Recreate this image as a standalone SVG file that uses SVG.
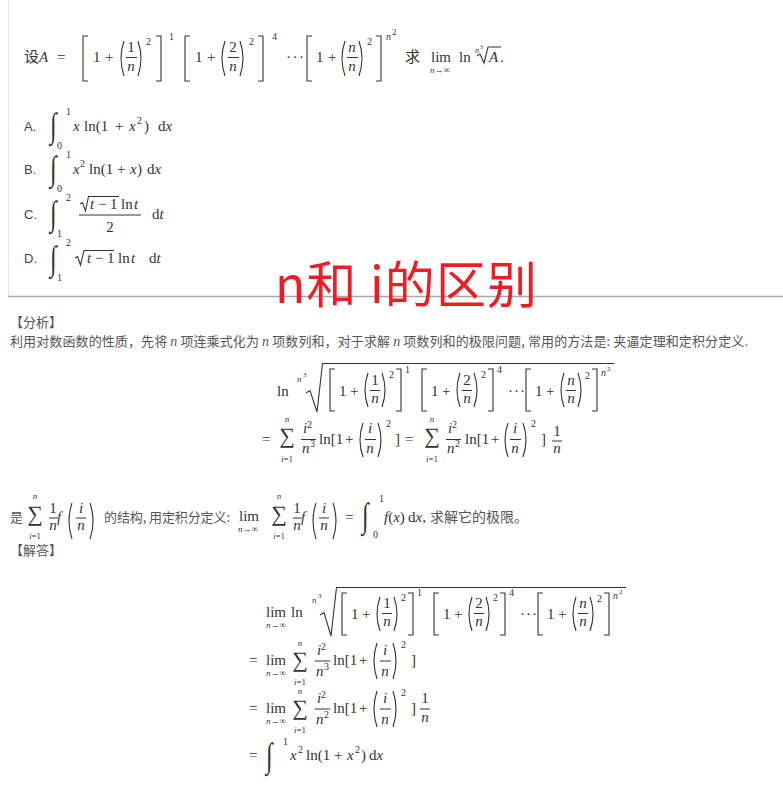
<svg xmlns="http://www.w3.org/2000/svg" width="783" height="791" viewBox="0 0 783 791">
<style>
.m{font-family:"Liberation Serif","DejaVu Serif",serif;font-size:15px;fill:#333}
.it{font-style:italic}
.sm{font-size:10px}
.xs{font-size:9px}
.c{text-anchor:middle}
.cn{font-family:"Noto Sans CJK SC",sans-serif;font-size:13px;fill:#555}
.ab{font-family:"Liberation Sans","Noto Sans CJK SC",sans-serif;font-size:13px;fill:#444}
.fl{stroke:#333;stroke-width:1}
.rad{fill:none;stroke:#333;stroke-width:1.1}
.dl{fill:none;stroke:#333;stroke-width:1.1}
.big{font-family:"Liberation Serif","DejaVu Serif",serif;fill:#333}
.sig{font-family:"Liberation Serif","DejaVu Serif",serif;fill:#333;font-size:22px;text-anchor:middle}
</style>
<rect width="783" height="791" fill="#fff"/>
<g id="card">
<line x1="8.5" y1="0" x2="8.5" y2="296" stroke="#e6e6e6" stroke-width="1"/>
<line x1="8" y1="296.5" x2="783" y2="296.5" stroke="#a8a8a8" stroke-width="1.5"/>
</g>
<g id="question">
<text class="cn" x="24" y="62" style="font-size:15px;fill:#333">设</text>
<text class="m it" x="39" y="62">A</text>
<text class="m" x="57" y="62">=</text>
<path class="dl" d="M88,36 H83 V81 H88 M124,41 Q118,58.5 124,76 M138,41 Q144,58.5 138,76 M156,36 H161 V81 H156"/>
<text class="m" x="93" y="62">1</text><text class="m" x="105" y="62">+</text>
<text class="m c" x="131" y="52">1</text><line class="fl" x1="126" y1="57.5" x2="137" y2="57.5"/><text class="m c it" x="131" y="71">n</text>
<text class="m sm" x="146" y="45">2</text>
<text class="m sm" x="169" y="40">1</text>
<path class="dl" d="M190,36 H185 V81 H190 M225,41 Q219,58.5 225,76 M240,41 Q246,58.5 240,76 M258,36 H263 V81 H258"/>
<text class="m" x="195" y="62">1</text><text class="m" x="207" y="62">+</text>
<text class="m c" x="233" y="52">2</text><line class="fl" x1="228" y1="57.5" x2="239" y2="57.5"/><text class="m c it" x="233" y="71">n</text>
<text class="m sm" x="249" y="45">2</text>
<text class="m sm" x="272" y="40">4</text>
<text class="m" x="286" y="62" letter-spacing="1.5">···</text>
<path class="dl" d="M312,36 H307 V81 H312 M345,41 Q339,58.5 345,76 M359,41 Q365,58.5 359,76 M376,36 H381 V81 H376"/>
<text class="m" x="316" y="62">1</text><text class="m" x="328" y="62">+</text>
<text class="m c it" x="352" y="52">n</text><line class="fl" x1="347" y1="57.5" x2="358" y2="57.5"/><text class="m c it" x="352" y="71">n</text>
<text class="m sm" x="367" y="45">2</text>
<text class="m sm it" x="386" y="40">n</text><text class="m xs" x="392" y="35">2</text>
<text class="cn" x="405" y="62" style="font-size:15px;fill:#333">求</text>
<text class="m c" x="441" y="62">lim</text>
<text class="m xs c" x="440" y="73"><tspan font-style="italic">n</tspan>→∞</text>
<text class="m" x="459" y="62">ln</text>
<text class="m it" x="475" y="53" style="font-size:8px">n</text><text class="m" x="480" y="49" style="font-size:6px">3</text>
<path class="rad" d="M477,56 L480,54 L484,63 L488,47 L501,47"/>
<text class="m it" x="489" y="62">A</text><text class="m" x="500" y="62">.</text>
</g>
<g id="options">
<text class="ab" x="24" y="131">A.</text>
<text class="big" font-size="24" transform="translate(50,137) scale(1,1.45)">∫</text>
<text class="m sm" x="66" y="115">1</text><text class="m sm" x="57" y="149">0</text>
<text class="m it" x="73" y="131">x</text><text class="m" x="84" y="131">ln(1</text><text class="m" x="115" y="131">+</text><text class="m it" x="129" y="131">x</text><text class="m sm" x="137" y="124">2</text><text class="m" x="144" y="131">)</text><text class="m" x="158" y="131">d<tspan font-style="italic">x</tspan></text>

<text class="ab" x="24" y="174">B.</text>
<text class="big" font-size="24" transform="translate(50,180) scale(1,1.45)">∫</text>
<text class="m sm" x="66" y="158">1</text><text class="m sm" x="57" y="192">0</text>
<text class="m it" x="73" y="174">x</text><text class="m sm" x="80" y="167">2</text><text class="m" x="89" y="174">ln(1</text><text class="m" x="117" y="174">+</text><text class="m it" x="130" y="174">x</text><text class="m" x="137" y="174">)</text><text class="m" x="147" y="174">d<tspan font-style="italic">x</tspan></text>

<text class="ab" x="24" y="219">C.</text>
<text class="big" font-size="24" transform="translate(50,225) scale(1,1.45)">∫</text>
<text class="m sm" x="66" y="201">2</text><text class="m sm" x="57" y="237">1</text>
<path class="rad" d="M80,204 L82.5,202.5 L85.5,211 L88.5,196.5 L119,196.5"/>
<text class="m it" x="90" y="209">t</text><text class="m" x="98" y="209">−</text><text class="m" x="110" y="209">1</text><text class="m" x="121" y="209">ln</text><text class="m it" x="134" y="209">t</text>
<line class="fl" x1="79" y1="215" x2="141" y2="215"/>
<text class="m c" x="110" y="232">2</text>
<text class="m" x="152" y="219">d<tspan font-style="italic">t</tspan></text>

<text class="ab" x="24" y="263">D.</text>
<text class="big" font-size="24" transform="translate(50,270) scale(1,1.45)">∫</text>
<text class="m sm" x="66" y="246">2</text><text class="m sm" x="57" y="281">1</text>
<path class="rad" d="M75,258 L77.5,256.5 L80.5,265 L84,250.5 L114,250.5"/>
<text class="m it" x="87" y="263">t</text><text class="m" x="95" y="263">−</text><text class="m" x="107" y="263">1</text><text class="m" x="118" y="263">ln</text><text class="m it" x="131" y="263">t</text>
<text class="m" x="149" y="263">d<tspan font-style="italic">t</tspan></text>
</g>
<g id="analysis">
<text class="cn" x="10" y="327">【分析】</text>
<text class="cn" x="10" y="346" textLength="738" lengthAdjust="spacing">利用对数函数的性质，先将 <tspan class="m it" style="font-size:14px;fill:#555">n</tspan> 项连乘式化为 <tspan class="m it" style="font-size:14px;fill:#555">n</tspan> 项数列和，对于求解 <tspan class="m it" style="font-size:14px;fill:#555">n</tspan> 项数列和的极限问题, 常用的方法是: 夹逼定理和定积分定义.</text>

<!-- eq1 line 1 -->
<text class="m" x="277" y="396">ln</text>
<text class="m it xs" x="297" y="382">n</text><text class="m" x="303" y="377" style="font-size:7px">3</text>
<path class="rad" d="M306,393 L310,390.5 L317,412 L322.5,363.5 L614,363.5"/>
<path class="dl" d="M335,369 H330 V411 H335 M368,373 Q362,390 368,407 M382,373 Q388,390 382,407 M396,369 H401 V411 H396"/>
<text class="m" x="339" y="396">1</text><text class="m" x="350" y="396">+</text>
<text class="m c" x="375" y="385">1</text><line class="fl" x1="370" y1="390.5" x2="380" y2="390.5"/><text class="m c it" x="375" y="403">n</text>
<text class="m sm" x="389" y="378">2</text>
<text class="m sm" x="405" y="373">1</text>
<path class="dl" d="M427,369 H422 V411 H427 M460,373 Q454,390 460,407 M474,373 Q480,390 474,407 M488,369 H493 V411 H488"/>
<text class="m" x="431" y="396">1</text><text class="m" x="442" y="396">+</text>
<text class="m c" x="467" y="385">2</text><line class="fl" x1="462" y1="390.5" x2="472" y2="390.5"/><text class="m c it" x="467" y="403">n</text>
<text class="m sm" x="481" y="378">2</text>
<text class="m sm" x="497" y="373">4</text>
<text class="m" x="508" y="396" letter-spacing="1">···</text>
<path class="dl" d="M531,369 H526 V411 H531 M564,373 Q558,390 564,407 M578,373 Q584,390 578,407 M592,369 H597 V411 H592"/>
<text class="m" x="535" y="396">1</text><text class="m" x="546" y="396">+</text>
<text class="m c it" x="571" y="385">n</text><line class="fl" x1="566" y1="390.5" x2="576" y2="390.5"/><text class="m c it" x="571" y="403">n</text>
<text class="m sm" x="585" y="379">2</text>
<text class="m sm it" x="601" y="376">n</text><text class="m" x="607" y="371" style="font-size:7px">2</text>

<!-- eq1 line 2 -->
<text class="m" x="262" y="444">=</text>
<text class="m it xs c" x="287" y="422">n</text>
<text class="sig" x="287" y="443">∑</text>
<text class="m xs c" x="287" y="462"><tspan font-style="italic">i</tspan>=1</text>
<text class="m it" x="303" y="433">i</text><text class="m sm" x="307" y="428">2</text>
<line class="fl" x1="301" y1="439.5" x2="316" y2="439.5"/>
<text class="m it" x="302" y="453">n</text><text class="m sm" x="310" y="447">3</text>
<text class="m" x="319" y="444">ln[1</text><text class="m" x="345" y="444">+</text>
<path class="dl" d="M363,423 Q357,440 363,457 M378,423 Q384,440 378,457"/>
<text class="m c it" x="370" y="433">i</text><line class="fl" x1="365" y1="439.5" x2="376" y2="439.5"/><text class="m c it" x="370" y="453">n</text>
<text class="m sm" x="386" y="427">2</text>
<text class="m" x="395" y="444">]</text>
<text class="m" x="405" y="444">=</text>
<text class="m it xs c" x="432" y="422">n</text>
<text class="sig" x="432" y="443">∑</text>
<text class="m xs c" x="432" y="462"><tspan font-style="italic">i</tspan>=1</text>
<text class="m it" x="448" y="433">i</text><text class="m sm" x="452" y="428">2</text>
<line class="fl" x1="446" y1="439.5" x2="461" y2="439.5"/>
<text class="m it" x="447" y="453">n</text><text class="m sm" x="455" y="447">2</text>
<text class="m" x="465" y="444">ln[1</text><text class="m" x="491" y="444">+</text>
<path class="dl" d="M508,423 Q502,440 508,457 M523,423 Q529,440 523,457"/>
<text class="m c it" x="515" y="433">i</text><line class="fl" x1="510" y1="439.5" x2="521" y2="439.5"/><text class="m c it" x="515" y="453">n</text>
<text class="m sm" x="531" y="427">2</text>
<text class="m" x="541" y="444">]</text>
<text class="m c" x="557" y="436">1</text><line class="fl" x1="552" y1="441" x2="562" y2="441"/><text class="m c it" x="557" y="453">n</text>

<!-- 是 line -->
<text class="cn" x="10" y="522">是</text>
<text class="m it xs c" x="35" y="499">n</text>
<text class="sig" x="35" y="521">∑</text>
<text class="m xs c" x="35" y="539" style="font-size:8.5px"><tspan font-style="italic">i</tspan>=1</text>
<text class="m c" x="53" y="513">1</text><line class="fl" x1="49" y1="518" x2="58" y2="518"/><text class="m c it" x="53" y="530">n</text>
<text class="m it" x="57" y="522">f</text>
<path class="dl" d="M72,503 Q66,521 72,539 M90,503 Q96,521 90,539"/>
<text class="m c it" x="81" y="513">i</text><line class="fl" x1="76" y1="518" x2="86" y2="518"/><text class="m c it" x="81" y="530">n</text>
<text class="cn" x="104" y="522" textLength="126" lengthAdjust="spacing">的结构, 用定积分定义:</text>
<text class="m c" x="249" y="521">lim</text>
<text class="m xs c" x="248" y="532"><tspan font-style="italic">n</tspan>→∞</text>
<text class="m it xs c" x="279" y="499">n</text>
<text class="sig" x="279" y="521">∑</text>
<text class="m xs c" x="279" y="539" style="font-size:8.5px"><tspan font-style="italic">i</tspan>=1</text>
<text class="m c" x="297" y="513">1</text><line class="fl" x1="293" y1="518" x2="302" y2="518"/><text class="m c it" x="297" y="530">n</text>
<text class="m it" x="301" y="522">f</text>
<path class="dl" d="M316,503 Q310,521 316,539 M333,503 Q339,521 333,539"/>
<text class="m c it" x="324" y="513">i</text><line class="fl" x1="319" y1="518" x2="329" y2="518"/><text class="m c it" x="324" y="530">n</text>
<text class="m" x="345" y="522">=</text>
<text class="big" font-size="24" transform="translate(362,527) scale(1,1.45)">∫</text>
<text class="m sm" x="379" y="502">1</text><text class="m sm" x="373" y="538">0</text>
<text class="m" x="384" y="522"><tspan font-style="italic">f</tspan>(<tspan font-style="italic">x</tspan>)</text>
<text class="m" x="408" y="522">d<tspan font-style="italic">x</tspan>,</text>
<text class="cn" x="430" y="522" style="font-size:14px">求解它的极限。</text>
</g>
<g id="solution">
<text class="cn" x="10" y="555">【解答】</text>
<!-- line 1 -->
<text class="m c" x="276" y="617">lim</text>
<text class="m xs c" x="276" y="628"><tspan font-style="italic">n</tspan>→∞</text>
<text class="m" x="291" y="617">ln</text>
<text class="m it xs" x="312" y="603">n</text><text class="m" x="318" y="598" style="font-size:7px">3</text>
<path class="rad" d="M320,615 L324,612.5 L331,636 L336.5,587.5 L626,587.5"/>
<path class="dl" d="M347,593 H342 V635 H347 M380,597 Q374,614 380,631 M394,597 Q400,614 394,631 M408,593 H413 V635 H408"/>
<text class="m" x="351" y="619">1</text><text class="m" x="362" y="619">+</text>
<text class="m c" x="387" y="608">1</text><line class="fl" x1="382" y1="613.5" x2="392" y2="613.5"/><text class="m c it" x="387" y="626">n</text>
<text class="m sm" x="401" y="601">2</text>
<text class="m sm" x="417" y="596">1</text>
<path class="dl" d="M439,593 H434 V635 H439 M472,597 Q466,614 472,631 M486,597 Q492,614 486,631 M500,593 H505 V635 H500"/>
<text class="m" x="443" y="619">1</text><text class="m" x="454" y="619">+</text>
<text class="m c" x="479" y="608">2</text><line class="fl" x1="474" y1="613.5" x2="484" y2="613.5"/><text class="m c it" x="479" y="626">n</text>
<text class="m sm" x="493" y="601">2</text>
<text class="m sm" x="509" y="596">4</text>
<text class="m" x="520" y="619" letter-spacing="1">···</text>
<path class="dl" d="M543,593 H538 V635 H543 M576,597 Q570,614 576,631 M590,597 Q596,614 590,631 M604,593 H609 V635 H604"/>
<text class="m" x="547" y="619">1</text><text class="m" x="558" y="619">+</text>
<text class="m c it" x="583" y="608">n</text><line class="fl" x1="578" y1="613.5" x2="588" y2="613.5"/><text class="m c it" x="583" y="626">n</text>
<text class="m sm" x="597" y="602">2</text>
<text class="m sm it" x="613" y="599">n</text><text class="m" x="619" y="594" style="font-size:7px">2</text>

<!-- line 2 -->
<text class="m" x="249" y="665">=</text>
<text class="m c" x="276" y="665">lim</text>
<text class="m xs c" x="276" y="676"><tspan font-style="italic">n</tspan>→∞</text>
<text class="m it xs c" x="300" y="646">n</text>
<text class="sig" x="300" y="667">∑</text>
<text class="m xs c" x="300" y="685"><tspan font-style="italic">i</tspan>=1</text>
<text class="m it" x="317" y="655">i</text><text class="m sm" x="321" y="650">2</text>
<line class="fl" x1="315" y1="661" x2="330" y2="661"/>
<text class="m it" x="316" y="676">n</text><text class="m sm" x="324" y="670">3</text>
<text class="m" x="333" y="665">ln[1</text><text class="m" x="359" y="665">+</text>
<path class="dl" d="M377,643 Q371,661 377,679 M393,643 Q399,661 393,679"/>
<text class="m c it" x="385" y="655">i</text><line class="fl" x1="380" y1="661" x2="391" y2="661"/><text class="m c it" x="385" y="676">n</text>
<text class="m sm" x="401" y="648">2</text>
<text class="m" x="411" y="665">]</text>

<!-- line 3 -->
<text class="m" x="249" y="713">=</text>
<text class="m c" x="276" y="713">lim</text>
<text class="m xs c" x="276" y="724"><tspan font-style="italic">n</tspan>→∞</text>
<text class="m it xs c" x="300" y="694">n</text>
<text class="sig" x="300" y="715">∑</text>
<text class="m xs c" x="300" y="733"><tspan font-style="italic">i</tspan>=1</text>
<text class="m it" x="317" y="703">i</text><text class="m sm" x="321" y="698">2</text>
<line class="fl" x1="315" y1="709" x2="330" y2="709"/>
<text class="m it" x="316" y="724">n</text><text class="m sm" x="324" y="718">2</text>
<text class="m" x="333" y="713">ln[1</text><text class="m" x="359" y="713">+</text>
<path class="dl" d="M377,691 Q371,709 377,727 M393,691 Q399,709 393,727"/>
<text class="m c it" x="385" y="703">i</text><line class="fl" x1="380" y1="709" x2="391" y2="709"/><text class="m c it" x="385" y="724">n</text>
<text class="m sm" x="401" y="696">2</text>
<text class="m" x="411" y="713">]</text>
<text class="m c" x="425" y="703">1</text><line class="fl" x1="420" y1="709" x2="430" y2="709"/><text class="m c it" x="425" y="722">n</text>

<!-- line 4 -->
<text class="m" x="249" y="760">=</text>
<text class="big" font-size="24" transform="translate(266,767) scale(1,1.45)">∫</text>
<text class="m sm" x="283" y="745">1</text>
<text class="m it" x="290" y="760">x</text><text class="m sm" x="298" y="753">2</text>
<text class="m" x="306" y="760">ln(1</text><text class="m" x="334" y="760">+</text>
<text class="m it" x="347" y="760">x</text><text class="m sm" x="355" y="753">2</text>
<text class="m" x="361" y="760">)</text>
<text class="m" x="369" y="760">d<tspan font-style="italic">x</tspan></text>
</g>
<g id="highlight">
<text x="275" y="303" font-family="Noto Sans CJK SC, sans-serif" font-size="50" fill="#ee1c25" textLength="262" lengthAdjust="spacing">n和 i的区别</text>
</g>
</svg>
